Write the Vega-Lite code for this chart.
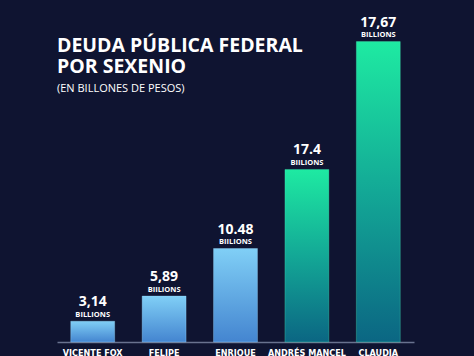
{
  "$schema": "https://vega.github.io/schema/vega-lite/v6.json",
  "autosize": "none",
  "width": 357,
  "height": 306,
  "padding": {"left": 57, "top": 36, "right": 60, "bottom": 14},
  "background": "#0f1431",
  "config": {
    "view": {"stroke": null},
    "font": "Open Sans"
  },
  "title": {
    "text": ["DEUDA PÚBLICA FEDERAL", "POR SEXENIO"],
    "subtitle": "(EN BILLONES DE PESOS)",
    "anchor": "start",
    "frame": "group",
    "orient": "top",
    "font": "Open Sans",
    "fontSize": 19.5,
    "fontWeight": "bold",
    "lineHeight": 21,
    "color": "#ffffff",
    "subtitleFont": "Open Sans",
    "subtitleFontSize": 11,
    "subtitleColor": "#ffffff",
    "subtitlePadding": 5,
    "dy": 83
  },
  "data": {
    "values": [
      {"presidente": "VICENTE FOX", "valor": "3,14", "unidad": "BILLIONS", "altura": 1.22, "grupo": "azul"},
      {"presidente": "FELIPE", "valor": "5,89", "unidad": "BIILIONS", "altura": 2.7, "grupo": "azul"},
      {"presidente": "ENRIQUE", "valor": "10.48", "unidad": "BIILIONS", "altura": 5.5, "grupo": "azul"},
      {"presidente": "ANDRÉS MANCEL", "valor": "17.4", "unidad": "BIILIONS", "altura": 10.15, "grupo": "verde"},
      {"presidente": "CLAUDIA", "valor": "17,67", "unidad": "BILLIONS", "altura": 17.67, "grupo": "verde"}
    ]
  },
  "encoding": {
    "x": {
      "field": "presidente",
      "type": "nominal",
      "scale": {
        "domain": ["VICENTE FOX", "FELIPE", "ENRIQUE", "ANDRÉS MANCEL", "CLAUDIA"],
        "paddingInner": 0.385,
        "paddingOuter": 0.1925
      },
      "axis": {
        "title": null,
        "labelAngle": 0,
        "labelColor": "#ffffff",
        "labelFont": "DejaVu Sans Condensed, Liberation Sans Narrow, Open Sans",
        "labelFontSize": 9,
        "labelFontWeight": "bold",
        "labelBaseline": "top",
        "labelPadding": 6,
        "ticks": false,
        "domainColor": "#69728f",
        "domainWidth": 1.5
      }
    },
    "y": {
      "field": "altura",
      "type": "quantitative",
      "scale": {"domain": [0, 18], "nice": false},
      "axis": null
    }
  },
  "layer": [
    {
      "transform": [{"filter": "datum.grupo === 'azul'"}],
      "mark": {
        "type": "bar",
        "color": {
          "gradient": "linear",
          "x1": 0, "y1": 0, "x2": 0, "y2": 1,
          "stops": [
            {"offset": 0, "color": "#80cff6"},
            {"offset": 1, "color": "#4485d0"}
          ]
        },
        "stroke": "#9fdcff",
        "strokeOpacity": 0.35,
        "strokeWidth": 1
      }
    },
    {
      "transform": [{"filter": "datum.grupo === 'verde'"}],
      "mark": {
        "type": "bar",
        "color": {
          "gradient": "linear",
          "x1": 0, "y1": 0, "x2": 0, "y2": 1,
          "stops": [
            {"offset": 0, "color": "#1eeaa2"},
            {"offset": 0.5, "color": "#13a896"},
            {"offset": 1, "color": "#0b6683"}
          ]
        },
        "stroke": "#4ff5be",
        "strokeOpacity": 0.3,
        "strokeWidth": 1
      }
    },
    {
      "mark": {
        "type": "text",
        "baseline": "alphabetic",
        "dy": -15,
        "font": "Open Sans",
        "fontSize": 14,
        "fontWeight": "bold",
        "color": "#ffffff"
      },
      "encoding": {"text": {"field": "valor"}}
    },
    {
      "mark": {
        "type": "text",
        "baseline": "alphabetic",
        "dy": -4.5,
        "font": "Open Sans",
        "fontSize": 7.5,
        "fontWeight": "bold",
        "color": "#ffffff"
      },
      "encoding": {"text": {"field": "unidad"}}
    }
  ]
}
